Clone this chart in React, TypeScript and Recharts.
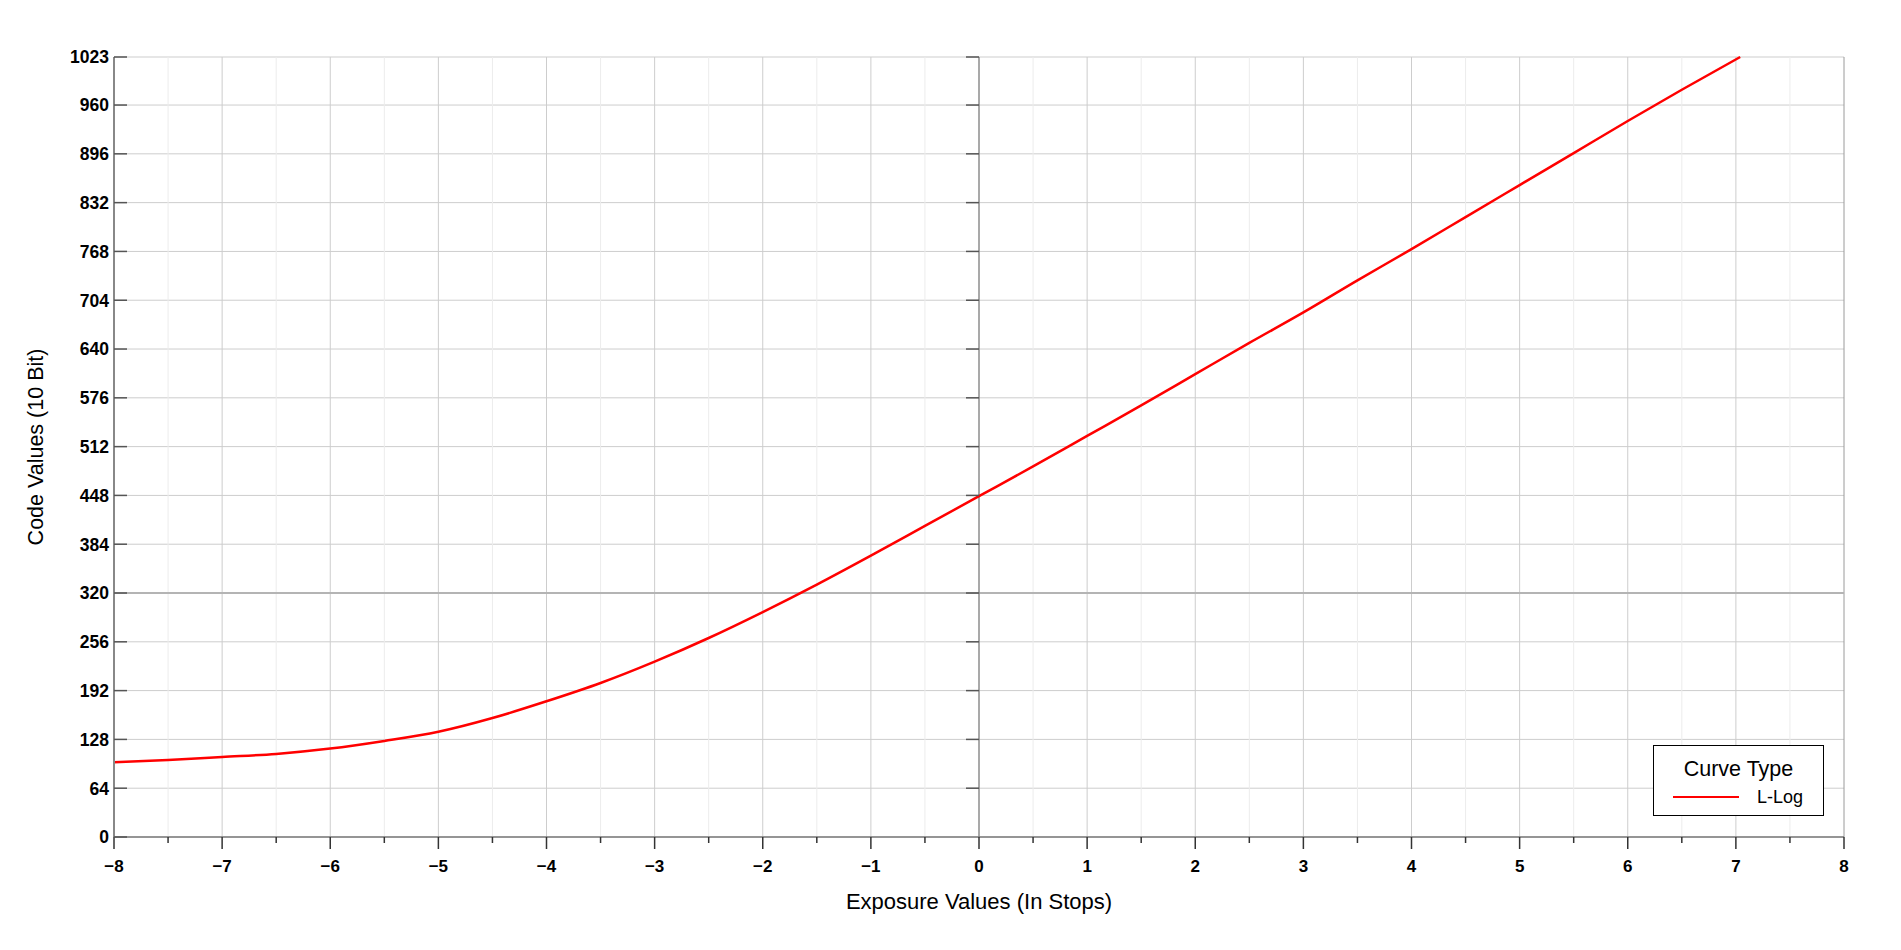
import React from "react";
import {
  ComposedChart,
  Line,
  XAxis,
  YAxis,
  CartesianGrid,
  ReferenceLine,
  ReferenceDot,
} from "recharts";

// L-Log transfer curve
const exposure = [
  -8, -7.5, -7, -6.5, -6, -5.5, -5, -4.5, -4, -3.5, -3, -2.5, -2, -1.5, -1, -0.5,
  0, 0.5, 1, 1.5, 2, 2.5, 3, 3.5, 4, 4.5, 5, 5.5, 6, 6.5, 7.04,
];
const lLog = [
  98, 101, 105, 109, 116, 126, 138, 156, 178, 202, 230, 261, 295, 331, 369, 408,
  447, 486, 526, 566, 607, 648, 688, 730, 771, 813, 855, 897, 939, 980, 1023,
];

const xTicks = [
  -8, -7.5, -7, -6.5, -6, -5.5, -5, -4.5, -4, -3.5, -3, -2.5, -2, -1.5, -1, -0.5,
  0, 0.5, 1, 1.5, 2, 2.5, 3, 3.5, 4, 4.5, 5, 5.5, 6, 6.5, 7, 7.5, 8,
];
const yTicks = [0, 64, 128, 192, 256, 320, 384, 448, 512, 576, 640, 704, 768, 832, 896, 960, 1023];

const seriesInfo = [{ name: "L-Log", color: "#ff0000" }];

const data = exposure.map((ev, i) => ({ ev, lLog: lLog[i] }));

const FONT = "'Liberation Sans', Arial, sans-serif";

const fmtX = (v: number) => (v < 0 ? `\u2212${Math.abs(v)}` : `${v}`);

function XTick(props: any) {
  const { x, y, payload } = props;
  const v = payload.value as number;
  const major = Number.isInteger(v);
  return (
    <g>
      <line x1={x} x2={x} y1={y} y2={y + (major ? 12 : 6)} stroke="#333" strokeWidth={1.5} />
      {major && (
        <text x={x} y={y + 35} textAnchor="middle" fontSize={17} fontWeight="bold" fill="#000" fontFamily={FONT}>
          {fmtX(v)}
        </text>
      )}
    </g>
  );
}

function YTick(props: any) {
  const { x, y, payload } = props;
  return (
    <g>
      <line x1={x + 5} x2={x + 18} y1={y} y2={y} stroke="#555" strokeWidth={1.5} />
      <text x={x} y={y} dy="0.36em" textAnchor="end" fontSize={17.5} fontWeight="bold" fill="#000" fontFamily={FONT}>
        {payload.value}
      </text>
    </g>
  );
}

function YTitle(props: any) {
  const vb = props.viewBox;
  const cx = vb.x + 35;
  const cy = vb.y + vb.height / 2;
  return (
    <text
      x={cx}
      y={cy}
      dy="0.36em"
      transform={`rotate(-90 ${cx} ${cy})`}
      textAnchor="middle"
      fontSize={21.5}
      fill="#000"
      fontFamily={FONT}
    >
      Code Values (10 Bit)
    </text>
  );
}

// small ticks sitting on the left of the EV 0 line
const zeroTick = (p: any) => (
  <line x1={p.cx - 13} x2={p.cx} y1={p.cy} y2={p.cy} stroke="#555" strokeWidth={1.5} />
);

export default function App() {
  return (
    <div style={{ position: "absolute", left: 0, top: 0, width: 1901, height: 950, background: "#fff", fontFamily: FONT }}>
      <ComposedChart width={1901} height={950} data={data} margin={{ top: 57, right: 57, bottom: 0, left: 0 }}>
        <CartesianGrid vertical={false} stroke="#cdcdcd" />
        {xTicks
          .filter((t) => !Number.isInteger(t))
          .map((t) => (
            <ReferenceLine key={`m${t}`} x={t} stroke="#ececec" strokeWidth={1} />
          ))}
        {xTicks
          .filter((t) => Number.isInteger(t) && t !== 0 && t !== -8)
          .map((t) => (
            <ReferenceLine key={`M${t}`} x={t} stroke={t === 8 ? "#9a9a9a" : "#cdcdcd"} strokeWidth={1} />
          ))}
        <ReferenceLine y={320} stroke="#b4b4b4" strokeWidth={2} />
        <ReferenceLine x={0} stroke="#8c8c8c" strokeWidth={1.5} />
        {yTicks.slice(1).map((t) => (
          <ReferenceDot key={`z${t}`} x={0} y={t} r={0} shape={zeroTick} />
        ))}
        <XAxis
          dataKey="ev"
          type="number"
          domain={[-8, 8]}
          ticks={xTicks}
          interval={0}
          height={113}
          tickSize={0}
          tickMargin={0}
          tickLine={false}
          axisLine={{ stroke: "#7a7a7a", strokeWidth: 1.5 }}
          tick={<XTick />}
          label={{ value: "Exposure Values (In Stops)", position: "insideBottom", offset: 41, fill: "#000", fontSize: 22, fontFamily: FONT }}
        />
        <YAxis
          type="number"
          domain={[0, 1023]}
          ticks={yTicks}
          interval={0}
          width={114}
          tickSize={0}
          tickMargin={5}
          tickLine={false}
          axisLine={{ stroke: "#888", strokeWidth: 2 }}
          tick={<YTick />}
          label={<YTitle />}
        />
        <Line
          type="monotone"
          dataKey="lLog"
          name="L-Log"
          stroke="#ff0000"
          strokeWidth={2.5}
          dot={false}
          activeDot={false}
          isAnimationActive={false}
        />
      </ComposedChart>

      <div
        style={{
          position: "absolute",
          left: 1653,
          top: 745,
          width: 171,
          height: 71,
          boxSizing: "border-box",
          border: "1px solid #000",
          background: "#fff",
        }}
      >
        <div style={{ position: "absolute", left: 0, right: 0, top: 10, textAlign: "center", fontSize: 21.5, lineHeight: "26px", color: "#000" }}>
          Curve Type
        </div>
        {seriesInfo.map((s) => (
          <div key={s.name} style={{ position: "absolute", left: 0, right: 0, top: 40 }}>
            <div style={{ position: "absolute", left: 19, top: 10, width: 66, height: 2, background: s.color }} />
            <div style={{ position: "absolute", left: 103, top: 0, fontSize: 18, lineHeight: "22px", color: "#000" }}>{s.name}</div>
          </div>
        ))}
      </div>
    </div>
  );
}
